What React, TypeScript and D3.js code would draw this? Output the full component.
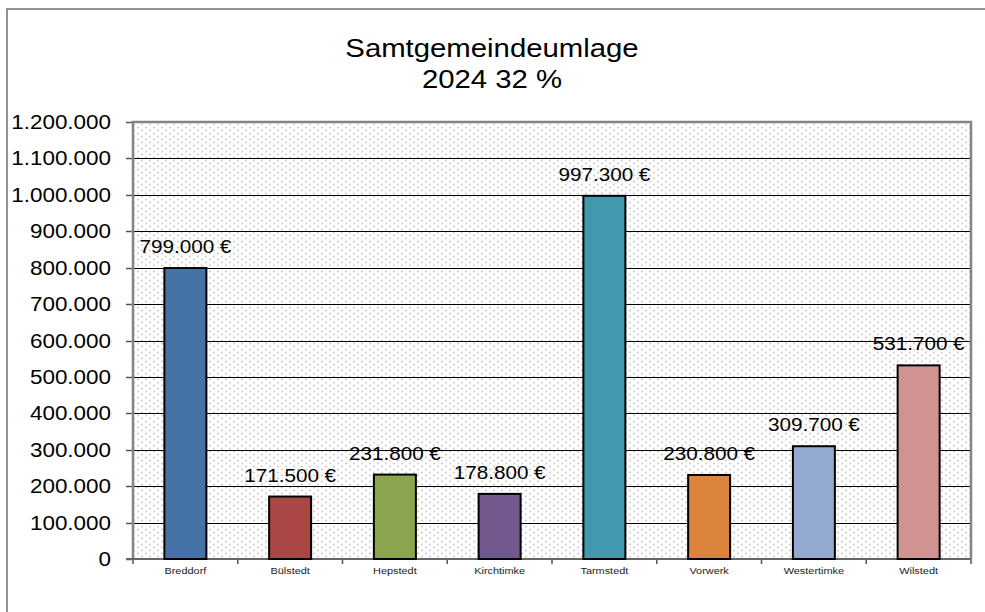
import * as d3 from 'd3';
import { useEffect, useRef } from 'react';

const titleLines = ['Samtgemeindeumlage', '2024 32 %'];
const categories = ['Breddorf', 'Bülstedt', 'Hepstedt', 'Kirchtimke', 'Tarmstedt', 'Vorwerk', 'Westertimke', 'Wilstedt'];
const values = [799000, 171500, 231800, 178800, 997300, 230800, 309700, 531700];
const barColors = ['#4572a7', '#aa4643', '#89a54e', '#71588f', '#4198af', '#db843d', '#93a9cf', '#d19392'];
const yTicks = [0, 100000, 200000, 300000, 400000, 500000, 600000, 700000, 800000, 900000, 1000000, 1100000, 1200000];

function App() {
    const ref = useRef<SVGSVGElement | null>(null);

    useEffect(() => {
        const width = 985, height = 612;
        const margin = { top: 122, right: 14, bottom: 53, left: 133 };
        const svg = d3.select(ref.current);
        svg.selectAll('*').remove();
        svg.attr('width', width).attr('height', height);

        // German number format
        const fmt = (v: number) => d3.format(',')(v).replace(/,/g, '.');
        const stretch = 1.15; // text in the picture is a bit wide

        const defs = svg.append('defs');
        const pat = defs.append('pattern')
            .attr('id', 'dots')
            .attr('patternUnits', 'userSpaceOnUse')
            .attr('width', 8).attr('height', 6);
        pat.append('rect').attr('width', 8).attr('height', 6).attr('fill', '#fff');
        pat.append('circle').attr('cx', 2).attr('cy', 1.5).attr('r', 0.9).attr('fill', '#c4c4c4');
        pat.append('circle').attr('cx', 6).attr('cy', 4.5).attr('r', 0.9).attr('fill', '#c4c4c4');

        // outer frame
        svg.append('rect')
            .attr('x', 7).attr('y', 9)
            .attr('width', 1000).attr('height', 700)
            .attr('fill', 'white')
            .attr('stroke', '#6e6e6e').attr('stroke-width', 1.5);

        const x = d3.scaleBand()
            .domain(categories)
            .range([margin.left, width - margin.right]);

        const y = d3.scaleLinear()
            .domain([0, 1200000])
            .range([height - margin.bottom, margin.top]);

        const x0 = margin.left, x1 = width - margin.right;
        const y0 = height - margin.bottom, y1 = margin.top;

        // plot background
        svg.append('rect')
            .attr('x', x0).attr('y', y1)
            .attr('width', x1 - x0).attr('height', y0 - y1)
            .attr('fill', 'url(#dots)');

        // gridlines
        svg.selectAll('line.grid')
            .data(yTicks.filter(d => d > 0 && d < 1200000))
            .join('line')
            .attr('class', 'grid')
            .attr('x1', x0).attr('x2', x1)
            .attr('y1', d => Math.round(y(d)) + 0.5).attr('y2', d => Math.round(y(d)) + 0.5)
            .attr('stroke', '#000').attr('stroke-width', 1);

        // y ticks
        svg.selectAll('line.ytick')
            .data(yTicks)
            .join('line')
            .attr('class', 'ytick')
            .attr('x1', x0 - 7).attr('x2', x0)
            .attr('y1', d => Math.round(y(d)) + 0.5).attr('y2', d => Math.round(y(d)) + 0.5)
            .attr('stroke', '#555').attr('stroke-width', 1.5);

        // x ticks
        const bounds = categories.map(c => x(c)!).concat([x1]);
        svg.selectAll('line.xtick')
            .data(bounds)
            .join('line')
            .attr('class', 'xtick')
            .attr('x1', d => d).attr('x2', d => d)
            .attr('y1', y0).attr('y2', y0 + 5)
            .attr('stroke', '#555').attr('stroke-width', 1.5);

        // plot border
        svg.append('path')
            .attr('d', `M${x0},${y0}V${y1}H${x1}V${y0}`)
            .attr('fill', 'none')
            .attr('stroke', '#858585').attr('stroke-width', 2.5);
        svg.append('line')
            .attr('x1', x0 - 7).attr('x2', x1)
            .attr('y1', y0).attr('y2', y0)
            .attr('stroke', '#666').attr('stroke-width', 2);

        // bars
        const bw = 42;
        svg.selectAll('rect.bar')
            .data(values)
            .join('rect')
            .attr('class', 'bar')
            .attr('x', (d, i) => x(categories[i])! + x.bandwidth() / 2 - bw / 2)
            .attr('y', d => y(d))
            .attr('width', bw)
            .attr('height', d => y0 - y(d))
            .attr('fill', (d, i) => barColors[i])
            .attr('stroke', '#000').attr('stroke-width', 2);

        const font = 'Arial, "Liberation Sans", sans-serif';

        // value labels
        svg.selectAll('text.val')
            .data(values)
            .join('text')
            .attr('class', 'val')
            .attr('transform', (d, i) => `translate(${x(categories[i])! + x.bandwidth() / 2},${y(d) - 15}) scale(${stretch},1)`)
            .attr('text-anchor', 'middle')
            .attr('font-family', font).attr('font-size', 18)
            .attr('fill', '#000')
            .text(d => fmt(d) + ' €');

        // y labels
        svg.selectAll('text.ylab')
            .data(yTicks)
            .join('text')
            .attr('class', 'ylab')
            .attr('transform', d => `translate(111,${y(d) + 7}) scale(${stretch},1)`)
            .attr('text-anchor', 'end')
            .attr('font-family', font).attr('font-size', 19.5)
            .attr('fill', '#000')
            .text(d => fmt(d));

        // category labels
        svg.selectAll('text.cat')
            .data(categories)
            .join('text')
            .attr('class', 'cat')
            .attr('transform', d => `translate(${x(d)! + x.bandwidth() / 2},${y0 + 15}) scale(${stretch},1)`)
            .attr('text-anchor', 'middle')
            .attr('font-family', font).attr('font-size', 9.5)
            .attr('fill', '#222')
            .text(d => d);

        // title
        svg.selectAll('text.title')
            .data(titleLines)
            .join('text')
            .attr('class', 'title')
            .attr('transform', (d, i) => `translate(492,${57 + i * 31}) scale(${stretch},1)`)
            .attr('text-anchor', 'middle')
            .attr('font-family', font).attr('font-size', 25.5)
            .attr('fill', '#000')
            .text(d => d);
    }, []);

    return (
        <div style={{ position: 'absolute', left: 0, top: 0, width: 985, height: 612, overflow: 'hidden', background: '#fff' }}>
            <svg ref={ref} style={{ display: 'block' }} />
        </div>
    );
}

export default App;
